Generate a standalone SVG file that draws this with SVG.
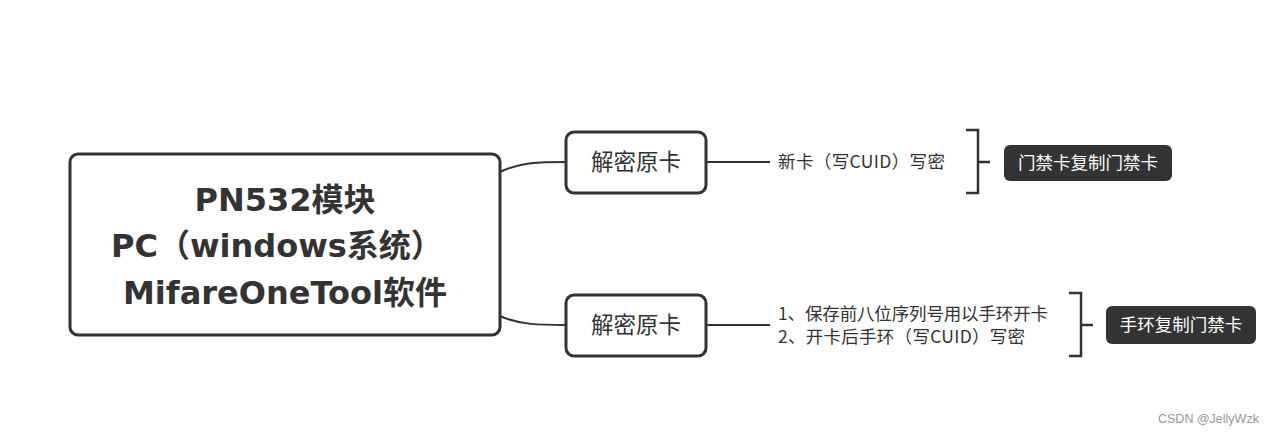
<svg xmlns="http://www.w3.org/2000/svg" width="1274" height="436" viewBox="0 0 1274 436">
<style>
.box{fill:#fff;stroke:#333;stroke-width:3}
.tag{fill:#333}
.ln{fill:none;stroke:#333;stroke-width:2}
.br{fill:none;stroke:#333;stroke-width:2.5}
.root{font-family:"DejaVu Sans","Noto Sans CJK SC",sans-serif;font-weight:bold;font-size:32px;fill:#333;text-anchor:middle}
.lbl{font-family:"Noto Sans CJK SC",sans-serif;font-size:22.5px;fill:#333;text-anchor:middle}
.txt{font-family:"Noto Sans CJK SC",sans-serif;font-size:17.5px;fill:#333}
.wt{font-family:"Noto Sans CJK SC",sans-serif;font-size:17.5px;fill:#fff;text-anchor:middle}
.wm{font-family:"Liberation Sans",sans-serif;font-size:12.5px;fill:#999}
</style>
<rect width="1274" height="436" fill="#fff"/>
<g id="connectors">
<path class="ln" d="M500,172 C520,162 540,162 566,162"/>
<path class="ln" d="M500,316 C520,325 540,325 566,325"/>
<path class="ln" d="M706,162 H770"/>
<path class="ln" d="M706,325 H770"/>
<path class="br" d="M966,130 H978 V193 H966 M978,162 H990"/>
<path class="br" d="M1069,293 H1081 V356 H1069 M1081,325 H1093"/>
</g>
<g id="root">
<rect class="box" x="70" y="154" width="430" height="181" rx="8"/>
<text class="root" x="285" y="211">PN532模块</text>
<text class="root" x="277" y="257">PC（windows系统）</text>
<text class="root" x="285" y="304">MifareOneTool软件</text>
</g>
<g id="child1">
<rect class="box" x="566" y="132" width="140" height="61" rx="8"/>
<text class="lbl" x="636" y="170">解密原卡</text>
</g>
<g id="child2">
<rect class="box" x="566" y="295" width="140" height="61" rx="8"/>
<text class="lbl" x="636" y="333">解密原卡</text>
</g>
<g id="label1">
<text class="txt" x="778" y="168" textLength="167">新卡（写CUID）写密</text>
</g>
<g id="label2">
<text class="txt" x="778" y="320" textLength="270">1、保存前八位序列号用以手环开卡</text>
<text class="txt" x="778" y="343" textLength="247">2、开卡后手环（写CUID）写密</text>
</g>
<g id="result1">
<rect class="tag" x="1004" y="145" width="168" height="36" rx="6"/>
<text class="wt" x="1088" y="169">门禁卡复制门禁卡</text>
</g>
<g id="result2">
<rect class="tag" x="1106" y="306" width="150" height="38" rx="6"/>
<text class="wt" x="1181" y="331">手环复制门禁卡</text>
</g>
<text class="wm" x="1158" y="423">CSDN @JellyWzk</text>
</svg>
